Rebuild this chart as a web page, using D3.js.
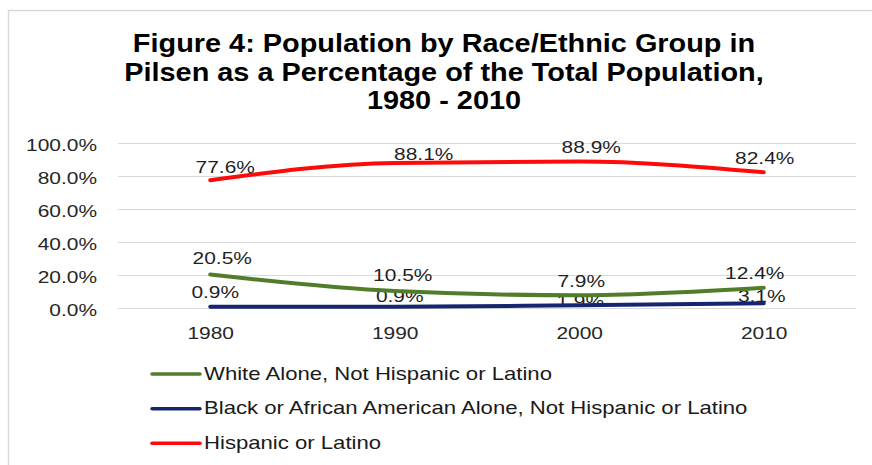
<!DOCTYPE html>
<html>
<head>
<meta charset="utf-8">
<script src="https://cdn.jsdelivr.net/npm/d3@7/dist/d3.min.js"></script>
<style>
  html, body { margin: 0; padding: 0; background: #fff; }
  svg { display: block; }
  text { font-family: "Liberation Sans", Arial, Helvetica, sans-serif; }
</style>
</head>
<body>
<svg id="chart" width="872" height="465"></svg>
<script>
// ---- data ----
const years = ["1980", "1990", "2000", "2010"];
const seriesNames = [
  "White Alone, Not Hispanic or Latino",
  "Black or African American Alone, Not Hispanic or Latino",
  "Hispanic or Latino"
];
const whiteValues = [20.5, 10.5, 7.9, 12.4];
const blackValues = [0.9, 0.9, 1.9, 3.1];
const hispanicValues = [77.6, 88.1, 88.9, 82.4];
const yTicks = [0, 20, 40, 60, 80, 100];
const titleLines = [
  "Figure 4: Population by Race/Ethnic Group in",
  "Pilsen as a Percentage of the Total Population,",
  "1980 - 2010"
];

// ---- styles / layout ----
const colors = ["#517d2b", "#16256f", "#ff0a0a"];
const SX = 1.23;        // horizontal stretch of the original picture (regular text)
const SX_LEGEND = 1.265;
const SX_TITLE = 1.155; // bold title stretch
// label nudges (dx, dy relative to the point), per series per year
const labelNudge = [
  [[12, -10], [8, -10], [2, -8.6], [-9, -8.5]],
  [[5, -8.5], [5, -5], [1, 2], [-2, -1.5]],
  [[15, -7.6], [29, -2.5], [12, -8.3], [1, -8.3]]
];

const svg = d3.select("#chart");

const series = [whiteValues, blackValues, hispanicValues].map((vals, i) => ({
  name: seriesNames[i],
  color: colors[i],
  values: vals.map((v, j) => ({ year: years[j], value: v, nudge: labelNudge[i][j] }))
}));

const x = d3.scalePoint().domain(years).range([118, 856]).padding(0.5);
const y = d3.scaleLinear().domain([0, 100]).range([308.3, 143.3]);

function stretchedText(sel, tx, ty, str, sx) {
  return sel.append("text")
    .attr("transform", `translate(${tx},${ty}) scale(${sx},1)`)
    .text(str);
}

// frame
svg.append("path")
  .attr("d", "M8.5,465 L8.5,10.5 L872,10.5")
  .attr("fill", "none")
  .attr("stroke", "#d9d9d9")
  .attr("stroke-width", 1.5);

// title
const titleG = svg.append("g")
  .attr("font-weight", "bold")
  .attr("font-size", 25)
  .attr("fill", "#000")
  .attr("text-anchor", "middle");
[51.7, 80.5, 109].forEach((by, i) => {
  stretchedText(titleG, 444, by, titleLines[i], SX_TITLE);
});

// grid + y axis
const yAxis = d3.axisLeft(y).tickValues(yTicks)
  .tickFormat(d => d.toFixed(1) + "%")
  .tickSize(0);
const gridG = svg.append("g");
gridG.selectAll("line").data(yTicks).join("line")
  .attr("x1", 118).attr("x2", 856)
  .attr("y1", d => Math.round(y(d)) + 0.5).attr("y2", d => Math.round(y(d)) + 0.5)
  .attr("stroke", "#d9d9d9").attr("stroke-width", 1);

const yAxisG = svg.append("g").attr("transform", "translate(97,0)").call(yAxis);
yAxisG.select(".domain").remove();
yAxisG.selectAll("text")
  .attr("x", 0).attr("dy", null).attr("y", 7.5)
  .attr("font-size", 17)
  .attr("fill", "#262626")
  .attr("font-family", "Liberation Sans, Arial, sans-serif")
  .attr("transform", `scale(${SX},1)`);

// x axis labels
const xAxis = d3.axisBottom(x).tickSize(0);
const xAxisG = svg.append("g").attr("transform", "translate(0,339)").call(xAxis);
xAxisG.select(".domain").remove();
xAxisG.selectAll(".tick text")
  .attr("y", 0).attr("dy", null)
  .attr("font-size", 17)
  .attr("fill", "#262626")
  .attr("font-family", "Liberation Sans, Arial, sans-serif")
  .attr("transform", `scale(${SX},1)`);

// data labels (under the lines, as in the reference)
const labelG = svg.append("g")
  .attr("font-size", 17)
  .attr("fill", "#1f1f1f")
  .attr("text-anchor", "middle");
series.forEach(s => {
  s.values.forEach(d => {
    stretchedText(labelG, x(d.year) + d.nudge[0], y(d.value) + d.nudge[1],
      d.value.toFixed(1) + "%", SX);
  });
});

// lines
const line = d3.line()
  .x(d => x(d.year))
  .y(d => y(d.value))
  .curve(d3.curveMonotoneX);
svg.append("g").selectAll("path").data(series).join("path")
  .attr("d", d => line(d.values))
  .attr("fill", "none")
  .attr("stroke", d => d.color)
  .attr("stroke-width", 4)
  .attr("stroke-linecap", "round")
  .attr("stroke-linejoin", "round");

// legend
const legendG = svg.append("g");
const legendRows = [374, 408.7, 443.3];
series.forEach((s, i) => {
  const g = legendG.append("g").attr("transform", `translate(0,${legendRows[i]})`);
  g.append("line")
    .attr("x1", 152).attr("x2", 200)
    .attr("y1", 0).attr("y2", 0)
    .attr("stroke", s.color).attr("stroke-width", 3.5)
    .attr("stroke-linecap", "round");
  stretchedText(g, 204, 5.5, s.name, SX_LEGEND)
    .attr("font-size", 17.5)
    .attr("fill", "#1a1a1a");
});
</script>
</body>
</html>
